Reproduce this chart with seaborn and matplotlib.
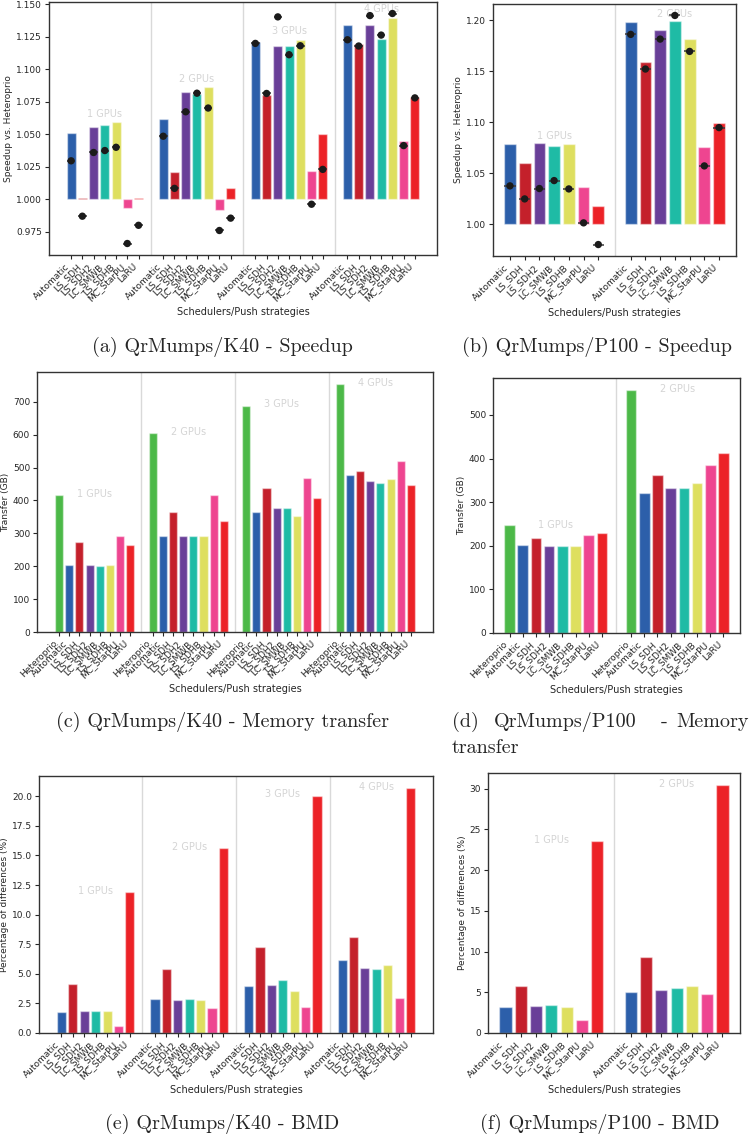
import numpy as np
import pandas as pd
import seaborn as sns
import matplotlib.pyplot as plt

sns.set_style('ticks')
plt.rcParams['font.family'] = ['DejaVu Sans']

SCHED = ['Automatic', 'LS_SDH', 'LS_SDH2', 'LC_SMWB', 'LS_SDHB', 'MC_StarPU', 'LaRU']
SCHED_H = ['Heteroprio'] + SCHED

COLORS = {'Heteroprio': '#4cb948', 'Automatic': '#2c5faa', 'LS_SDH': '#c4202b',
          'LS_SDH2': '#693f98', 'LC_SMWB': '#1fbba5', 'LS_SDHB': '#dedf5f',
          'MC_StarPU': '#ee4590', 'LaRU': '#ec2227'}

#%% datos: speedup vs heteroprio (barras = total, puntos = otra medida)
k40_speed_bar = [
    [1.051, 1.001, 1.0554, 1.0569, 1.0592, 0.9931, 1.001],
    [1.0617, 1.0212, 1.0827, 1.0811, 1.0862, 0.9916, 1.0089],
    [1.1209, 1.0801, 1.1176, 1.1181, 1.1227, 1.0217, 1.0503],
    [1.1342, 1.1196, 1.1342, 1.1232, 1.1395, 1.0446, 1.0783],
]
k40_speed_dot = [
    [1.0296, 0.987, 1.036, 1.0375, 1.040, 0.966, 0.980],
    [1.0485, 1.0084, 1.0673, 1.0816, 1.0702, 0.976, 0.9855],
    [1.1199, 1.0814, 1.1403, 1.1112, 1.1181, 0.9962, 1.023],
    [1.1227, 1.1179, 1.1413, 1.1263, 1.1429, 1.0413, 1.078],
]
p100_speed_bar = [
    [1.0784, 1.0598, 1.0797, 1.0768, 1.0788, 1.0363, 1.0176],
    [1.1987, 1.1595, 1.1902, 1.199, 1.1814, 1.0758, 1.099],
]
p100_speed_dot = [
    [1.0376, 1.0248, 1.035, 1.0428, 1.0346, 1.0013, 0.980],
    [1.1863, 1.1523, 1.1817, 1.2049, 1.1696, 1.0572, 1.0948],
]

#%% datos: transferencia de memoria (GB)
k40_transfer = [
    [417, 204, 273, 203, 202, 205, 293, 266],
    [605, 292, 366, 292, 292, 292, 418, 338],
    [688, 365, 437, 376, 378, 352, 468, 409],
    [753, 476, 490, 458, 452, 465, 521, 447],
]
p100_transfer = [
    [247, 202, 218, 200, 200, 199, 225, 230],
    [557, 320, 363, 333, 333, 345, 385, 413],
]

#%% datos: BMD (% de diferencias)
k40_bmd = [
    [1.77, 4.17, 1.86, 1.89, 1.83, 0.59, 11.92],
    [2.85, 5.41, 2.76, 2.90, 2.79, 2.08, 15.66],
    [3.97, 7.30, 4.08, 4.45, 3.58, 2.23, 20.06],
    [6.17, 8.11, 5.52, 5.41, 5.77, 2.96, 20.68],
]
p100_bmd = [
    [3.24, 5.78, 3.32, 3.44, 3.20, 1.64, 23.52],
    [5.04, 9.30, 5.25, 5.57, 5.78, 4.75, 30.41],
]

GAP = 1.2
W, H = 750, 1137

fig = plt.figure(figsize=(W / 100, H / 100), dpi=100)


def rect(l, r, t, b):
    return [l / W, 1 - b / H, (r - l) / W, (b - t) / H]


def panel(box, names, bars, ylabel, dots=None, base=0.0):
    ax = fig.add_axes(rect(*box))
    n, ng = len(names), len(bars)
    df = pd.DataFrame({
        'pos': [g * (n + GAP) + i for g in range(ng) for i in range(n)],
        'sched': names * ng,
        'val': [v - base for grp in bars for v in grp],
    })
    sns.barplot(data=df, x='pos', y='val', hue='sched', palette=COLORS,
                native_scale=True, dodge=False, saturation=1, errorbar=None,
                legend=False, width=0.8, bottom=base,
                edgecolor=(1, 1, 1, 0.45), linewidth=1, ax=ax)
    if dots is not None:
        df['dot'] = [v for grp in dots for v in grp]
        ax.hlines(df['dot'], df['pos'] - 0.38, df['pos'] + 0.38,
                  color='#3a3a3a', lw=1.1, zorder=3)
        sns.scatterplot(data=df, x='pos', y='dot', color='#1b1b1b', s=28,
                        edgecolor='none', zorder=4, legend=False, ax=ax)
    for g in range(1, ng):
        ax.axvline(g * (n + GAP) - (GAP + 1) / 2, color='#d9d9d9', lw=1, zorder=0)
    for g in range(ng):
        ax.text(g * (n + GAP) + (n - 1) / 2, max(bars[g]) * 1.006, f'{g + 1} GPUs',
                ha='center', va='center', color='#d4d4d4', fontsize=7)
    ax.set_xticks(df['pos'])
    ax.set_xticklabels(df['sched'], rotation=45, ha='right', fontsize=6.5)
    ax.tick_params(axis='y', labelsize=6.5)
    ax.tick_params(length=3, width=0.8, pad=2)
    ax.set_xlabel('Schedulers/Push strategies', fontsize=7, labelpad=3)
    ax.set_ylabel(ylabel, fontsize=6.5, labelpad=2)
    for s in ax.spines.values():
        s.set_color('#333333')
        s.set_linewidth(1)
    return ax


panel((49, 437, 2, 255), SCHED, k40_speed_bar, 'Speedup vs. Heteroprio',
      dots=k40_speed_dot, base=1.0)
panel((493, 736, 4, 256), SCHED, p100_speed_bar, 'Speedup vs. Heteroprio',
      dots=p100_speed_dot, base=1.0)
panel((37, 433, 372, 632), SCHED_H, k40_transfer, 'Transfer (GB)')
panel((493, 740, 378, 633), SCHED_H, p100_transfer, 'Transfer (GB)')
panel((39, 433, 776, 1033), SCHED, k40_bmd, 'Percentage of differences (%)')
panel((488, 740, 773, 1033), SCHED, p100_bmd, 'Percentage of differences (%)')

#%% subtítulos estilo LaTeX
cap = dict(family='cmr10', fontsize=14.5, va='center')
fig.text(222 / W, 1 - 347 / H, '(a) QrMumps/K40 - Speedup', ha='center', **cap)
fig.text(597 / W, 1 - 347 / H, '(b) QrMumps/P100 - Speedup', ha='center', **cap)
fig.text(222 / W, 1 - 722 / H, '(c) QrMumps/K40 - Memory transfer', ha='center', **cap)
fig.text(452 / W, 1 - 722 / H, '(d)', ha='left', **cap)
fig.text(494 / W, 1 - 722 / H, 'QrMumps/P100', ha='left', **cap)
fig.text(664 / W, 1 - 722 / H, '-', ha='center', **cap)
fig.text(749 / W, 1 - 722 / H, 'Memory', ha='right', **cap)
fig.text(452 / W, 1 - 748 / H, 'transfer', ha='left', **cap)
fig.text(222 / W, 1 - 1124 / H, '(e) QrMumps/K40 - BMD', ha='center', **cap)
fig.text(600 / W, 1 - 1124 / H, '(f) QrMumps/P100 - BMD', ha='center', **cap)

fig.savefig('out.png', dpi=100)
